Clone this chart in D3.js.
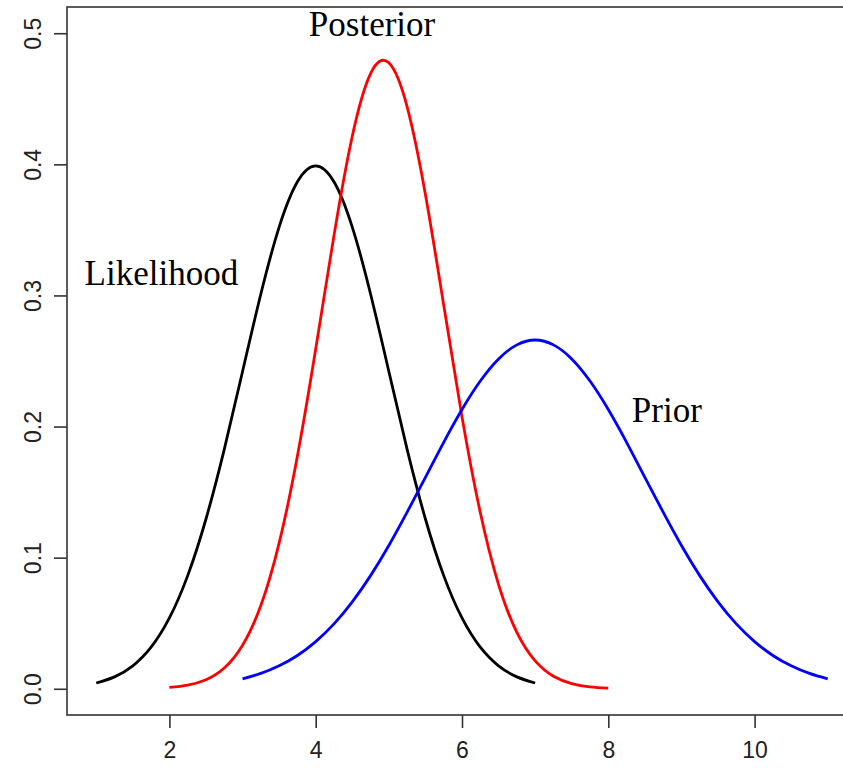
<!DOCTYPE html>
<html>
<head>
<meta charset="utf-8">
<script src="https://cdn.jsdelivr.net/npm/d3@7"></script>
<style>
html,body{margin:0;padding:0;background:#fff;}
svg{display:block;}
</style>
</head>
<body>
<svg id="chart" width="843" height="768"></svg>
<script>
// x grids for each curve (step 0.25)
const likelihoodX = d3.range(1, 7.001, 0.25);
const likelihoodY = [0.0044,0.0091,0.0175,0.0317,0.0540,0.0863,0.1295,0.1826,0.2420,0.3011,0.3521,0.3867,0.3989,
                     0.3867,0.3521,0.3011,0.2420,0.1826,0.1295,0.0863,0.0540,0.0317,0.0175,0.0091,0.0044];
const priorX = d3.range(3, 11.001, 0.25);
const priorY = [0.0076,0.0117,0.0175,0.0254,0.0360,0.0495,0.0663,0.0863,0.1093,0.1347,0.1613,0.1880,0.2130,0.2347,0.2516,0.2623,0.2660,
                0.2623,0.2516,0.2347,0.2130,0.1880,0.1613,0.1347,0.1093,0.0863,0.0663,0.0495,0.0360,0.0254,0.0175,0.0117,0.0076];
const posteriorX = d3.range(2, 8.001, 0.25);
const posteriorY = [0.0010,0.0028,0.0069,0.0158,0.0332,0.0635,0.1111,0.1775,0.2591,0.3457,0.4214,0.4692,0.4774,
                    0.4439,0.3770,0.2926,0.2074,0.1344,0.0795,0.0430,0.0213,0.0096,0.0040,0.0015,0.0005];
const xTicks = [2, 4, 6, 8, 10];
const yTicks = [0.0, 0.1, 0.2, 0.3, 0.4, 0.5];
const labels = [
  {text: "Posterior", x: 4.77, y: 0.507},
  {text: "Likelihood", x: 1.89, y: 0.317},
  {text: "Prior", x: 8.8, y: 0.212}
];
const series = [
  {xs: likelihoodX, ys: likelihoodY, color: "#000000"},
  {xs: posteriorX, ys: posteriorY, color: "#ff0000"},
  {xs: priorX, ys: priorY, color: "#0000ff"}
];

(function () {
const svg = d3.select("#chart");
const mLeft = 67, mRight = 857, mTop = 7, mBottom = 715;
const x = d3.scaleLinear().domain([0.6, 11.4]).range([mLeft, mRight]);
const y = d3.scaleLinear().domain([-0.02, 0.52]).range([mBottom, mTop]);

// box
svg.append("rect").attr("x", mLeft).attr("y", mTop)
  .attr("width", mRight - mLeft).attr("height", mBottom - mTop)
  .attr("fill", "none").attr("stroke", "#333").attr("stroke-width", 1.6);

// axes
const xAxis = d3.axisBottom(x).tickValues(xTicks).tickFormat(d3.format("d")).tickSize(13).tickPadding(14);
const gx = svg.append("g").attr("transform", `translate(0,${mBottom})`).call(xAxis);
gx.select(".domain").remove();
gx.selectAll("line").attr("stroke", "#333").attr("stroke-width", 1.6);
gx.selectAll("text").attr("font-family", "Liberation Sans, Arial, sans-serif").attr("font-size", 23).attr("fill", "#222");

const yAxis = d3.axisLeft(y).tickValues(yTicks).tickFormat(d3.format(".1f")).tickSize(13);
const gy = svg.append("g").attr("transform", `translate(${mLeft},0)`).call(yAxis);
gy.select(".domain").remove();
gy.selectAll("line").attr("stroke", "#333").attr("stroke-width", 1.6);
gy.selectAll("text")
  .attr("font-family", "Liberation Sans, Arial, sans-serif").attr("font-size", 23).attr("fill", "#222")
  .attr("x", null)
  .attr("text-anchor", "middle")
  .attr("transform", `translate(-34,0) rotate(-90)`)
  .attr("dy", "0.35em");

// curves
const line = d3.line().x(d => x(d[0])).y(d => y(d[1])).curve(d3.curveNatural);
series.forEach(s => {
  svg.append("path")
    .datum(s.xs.map((v, i) => [v, s.ys[i]]))
    .attr("d", line)
    .attr("fill", "none")
    .attr("stroke", s.color)
    .attr("stroke-width", 2.8)
    .attr("stroke-linejoin", "round");
});

// labels
svg.selectAll("text.lbl").data(labels).enter().append("text")
  .attr("class", "lbl")
  .attr("x", d => x(d.x)).attr("y", d => y(d.y))
  .attr("text-anchor", "middle").attr("dominant-baseline", "central")
  .attr("font-family", "Liberation Serif, Times New Roman, serif")
  .attr("font-size", 35)
  .attr("fill", "#000")
  .text(d => d.text);
})();
</script>
</body>
</html>
